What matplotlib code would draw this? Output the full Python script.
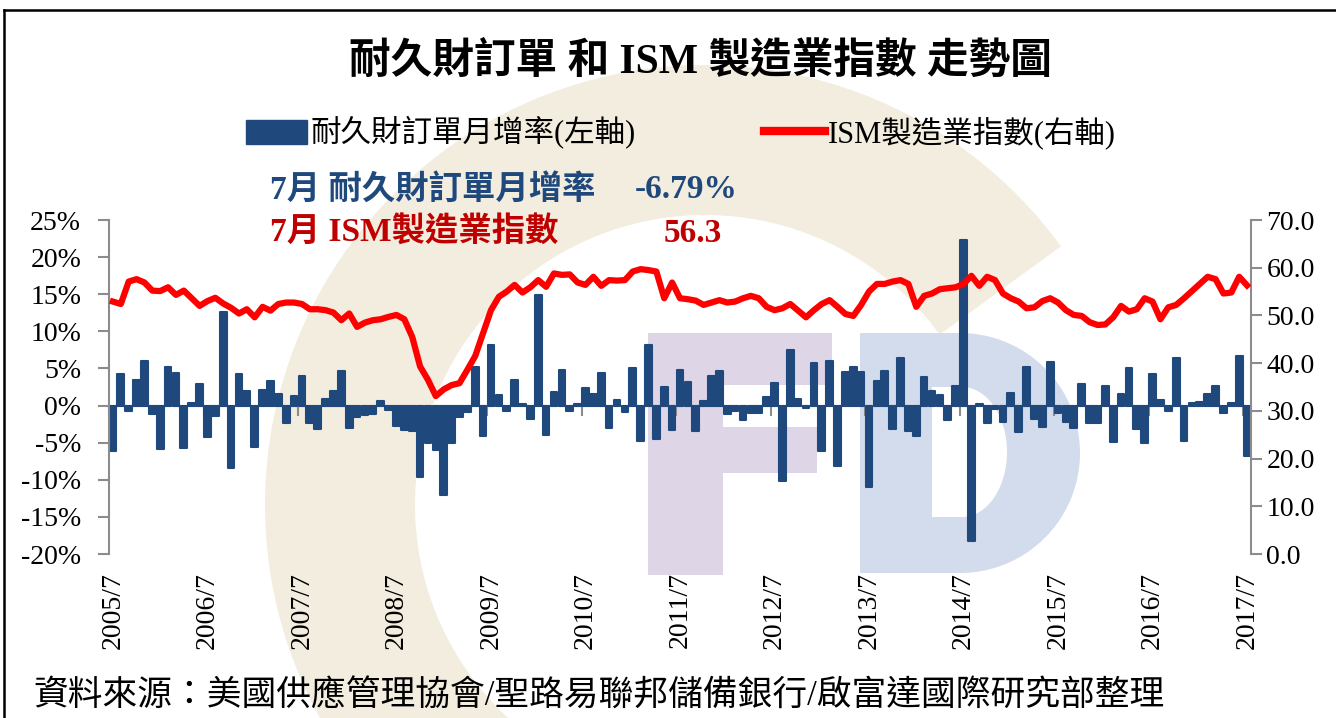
import numpy as np
import matplotlib
matplotlib.use("Agg")
import matplotlib.pyplot as plt
from matplotlib.patches import Patch, Wedge, Polygon
from matplotlib.lines import Line2D

# ---- data ----
tick_labels = ["2005/7", "2006/7", "2007/7", "2008/7", "2009/7", "2010/7", "2011/7",
               "2012/7", "2013/7", "2014/7", "2015/7", "2016/7", "2017/7"]

# durable goods orders, month-over-month %, 2005/7 .. 2017/7
durable = [-6.1, 4.2, -0.7, 3.4, 6.0, -1.2, -5.9, 5.2, 4.4, -5.7, 0.4, 2.9,
           -4.3, -1.4, 12.6, -8.4, 4.2, 1.9, -5.6, 2.1, 3.3, 1.6, -2.3, 1.3,
           4.0, -2.3, -3.1, 0.9, 1.9, 4.7, -3.0, -1.5, -1.3, -1.2, 0.6, -0.6,
           -2.8, -3.3, -3.4, -9.6, -5.0, -6.0, -12.1, -5.1, -1.5, -0.9, 5.2, -4.1,
           8.1, 1.4, -0.7, 3.4, 0.2, -1.8, 14.9, -3.9, 1.8, 4.8, -0.7, 0.2,
           2.3, 1.6, 4.4, -3.0, 0.7, -0.9, 5.1, -4.8, 8.2, -4.5, 2.5, -3.3,
           4.8, 3.2, -3.4, 0.6, 4.0, 4.7, -1.1, -0.8, -2.0, -1.0, -1.0, 1.2,
           3.1, -10.2, 7.5, 0.9, -0.3, 5.8, -6.1, 6.0, -8.1, 4.5, 5.2, 4.5,
           -11.0, 3.3, 4.7, -3.2, 6.4, -3.4, -4.1, 3.9, 2.0, 1.4, -1.9, 2.7,
           22.3, -18.2, 0.2, -2.3, -0.5, -2.2, 1.7, -3.6, 5.2, -1.8, -2.9, 5.9,
           -1.0, -2.2, -3.0, 2.9, -2.4, -2.4, 2.7, -4.9, 1.5, 5.1, -3.2, -5.0,
           4.2, 0.8, -0.7, 6.4, -4.8, 0.4, 0.5, 1.6, 2.6, -1.0, 0.3, 6.7,
           -6.79]

# ISM manufacturing index
ism = [52.9, 52.4, 57.1, 57.6, 56.9, 55.2, 55.1, 55.9, 54.3, 55.2, 53.6, 52.0,
       53.0, 53.7, 52.5, 51.6, 50.4, 51.3, 49.6, 51.8, 51.0, 52.4, 52.7, 52.7,
       52.4, 51.3, 51.3, 51.1, 50.6, 49.0, 50.4, 47.6, 48.5, 49.0, 49.2, 49.7,
       50.1, 49.2, 45.5, 39.3, 36.5, 33.1, 34.5, 35.4, 35.8, 38.6, 41.5, 46.3,
       51.1, 53.9, 55.0, 56.4, 54.8, 55.9, 57.4, 56.0, 58.8, 58.5, 58.6, 56.9,
       56.4, 58.1, 56.2, 57.4, 57.3, 57.4, 59.2, 59.7, 59.5, 59.2, 53.6, 56.9,
       53.6, 53.4, 53.1, 52.2, 52.7, 53.2, 52.7, 52.9, 53.6, 54.1, 53.6, 51.8,
       51.1, 51.5, 52.4, 51.0, 49.6, 51.1, 52.4, 53.2, 51.8, 50.3, 49.9, 52.2,
       55.0, 56.6, 56.6, 57.1, 57.4, 56.6, 51.8, 54.1, 54.6, 55.5, 55.7, 55.9,
       56.6, 58.3, 56.2, 58.1, 57.4, 54.6, 53.6, 52.9, 51.5, 51.7, 53.0, 53.6,
       52.7, 51.1, 50.1, 49.9, 48.6, 48.0, 48.1, 49.6, 52.0, 50.8, 51.3, 53.6,
       52.9, 49.2, 51.7, 52.2, 53.6, 55.1, 56.6, 58.1, 57.6, 54.6, 54.8, 58.1,
       56.3]

bar_name = "耐久財訂單月增率(左軸)"
line_name = "ISM製造業指數(右軸)"
title = "耐久財訂單 和 ISM 製造業指數 走勢圖"
source = "資料來源：美國供應管理協會/聖路易聯邦儲備銀行/啟富達國際研究部整理"

BLUE = "#1F497D"
RED = "#FF0000"
GRAY = "#8C8C8C"
fam = ["Liberation Serif", "Noto Sans CJK TC"]
plt.rcParams["font.family"] = fam

W, H = 1336, 718
fig = plt.figure(figsize=(W / 100, H / 100), dpi=100)

# background watermark (C / F / D logo), in pixel coords
bg = fig.add_axes([0, 0, 1, 1], zorder=-1)
bg.set_xlim(0, W)
bg.set_ylim(H, 0)
bg.axis("off")
bg.add_patch(Wedge((705, 505), 440, 58, 324, width=150, color="#F3EDDF", lw=0))
bg.add_patch(Polygon([(648, 333), (832, 333), (832, 385), (723, 385), (723, 427),
                      (817, 427), (817, 473), (723, 473), (723, 575), (648, 575)],
                     closed=True, color="#DED5E7", lw=0))
t = np.linspace(np.pi / 2, -np.pi / 2, 60)
outer = [(860, 333)] + [(960 + 120 * np.cos(a), 453 + 120 * np.sin(-a)) for a in t] + [(860, 573)]
bg.add_patch(Polygon(outer, closed=True, color="#D3DCEC", lw=0))
inner = [(932, 387)] + [(962 + 45 * np.cos(a), 452 + 65 * np.sin(-a)) for a in t] + [(932, 517)]
bg.add_patch(Polygon(inner, closed=True, color="white", lw=0))

# frame
fig.add_artist(Line2D([4 / W, 1], [1 - 10 / H, 1 - 10 / H], color="black", lw=1.8))
fig.add_artist(Line2D([4 / W, 4 / W], [0, 1 - 10 / H], color="black", lw=1.8))

# main axes
ax = fig.add_axes([109 / W, 1 - 554 / H, (1251 - 109) / W, (554 - 220) / H])
ax.patch.set_alpha(0)
x = np.arange(len(durable))
ax.bar(x, durable, width=0.85, color=BLUE, edgecolor=BLUE, linewidth=1.5,
       joinstyle="round", zorder=2)
ax.set_xlim(-0.5, len(durable) - 0.5)
ax.set_ylim(-20, 25)
ax.set_yticks(np.arange(-20, 26, 5))
ax.set_yticklabels([f"{v}%" for v in range(-20, 26, 5)])
ax.set_xticks(np.arange(0, len(durable), 12))
ax.set_xticklabels(tick_labels, rotation=90)
ax.tick_params(axis="x", length=0, pad=13, labelsize=20)
ax.tick_params(axis="y", length=8, width=1.5, color=GRAY, labelsize=20, pad=12)
for s in ["top", "right", "bottom"]:
    ax.spines[s].set_visible(False)
ax.spines["left"].set_color(GRAY)
ax.spines["left"].set_linewidth(1.5)

# zero line with category ticks
sec = ax.secondary_xaxis(20 / 45)
sec.set_xticks(np.arange(-0.5, len(durable), 12))
sec.tick_params(axis="x", direction="out", length=7, width=1.5, color=GRAY,
                labelbottom=False, labeltop=False)
sec.spines["bottom"].set_color(GRAY)
sec.spines["bottom"].set_linewidth(1.5)
sec.spines["bottom"].set_zorder(3)

ax2 = ax.twinx()
ax2.plot(x, ism, color=RED, lw=4.5, solid_joinstyle="round", zorder=3)
ax2.set_ylim(0, 70)
ax2.set_yticks(np.arange(0, 71, 10))
ax2.set_yticklabels([f"{v:.1f}" for v in range(0, 71, 10)])
ax2.tick_params(axis="y", length=8, width=1.5, color=GRAY, labelsize=20, pad=3)
for s in ["top", "left", "bottom"]:
    ax2.spines[s].set_visible(False)
ax2.spines["right"].set_color(GRAY)
ax2.spines["right"].set_linewidth(1.5)

# titles / legend / notes
fig.text(700 / W, 1 - 62 / H, title, ha="center", va="center", fontsize=30,
         fontweight="bold", family=fam)
handles = [Patch(facecolor=BLUE, edgecolor=BLUE, label=bar_name),
           Line2D([0], [0], color=RED, lw=6, label=line_name)]
fig.legend(handles=handles, loc="center", bbox_to_anchor=(681 / W, 1 - 133 / H),
           ncol=2, frameon=False, fontsize=22, handlelength=2.0, handleheight=0.8,
           handletextpad=0.1, columnspacing=4.2)

fig.text(270 / W, 1 - 190 / H, "7月 耐久財訂單月增率", color=BLUE, fontsize=24,
         fontweight="bold", va="center", ha="left")
fig.text(738 / W, 1 - 190 / H, f"{durable[-1]:.2f}%", color=BLUE, fontsize=24,
         fontweight="bold", va="center", ha="right")
fig.text(270 / W, 1 - 233 / H, "7月 ISM製造業指數", color="#C00000", fontsize=24,
         fontweight="bold", va="center", ha="left")
fig.text(722 / W, 1 - 233 / H, f"{ism[-1]:.1f}", color="#C00000", fontsize=24,
         fontweight="bold", va="center", ha="right")

fig.text(33 / W, 1 - 697 / H, source, ha="left", va="center", fontsize=25)

fig.savefig("out.png", dpi=100)
